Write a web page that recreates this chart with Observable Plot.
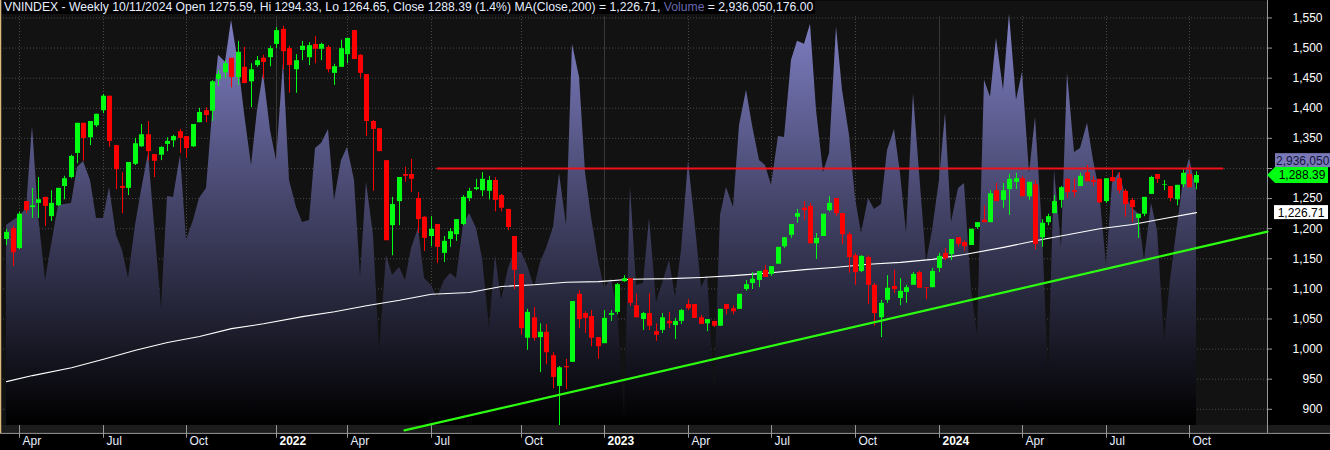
<!DOCTYPE html>
<html>
<head>
<meta charset="utf-8">
<script src="https://cdn.jsdelivr.net/npm/d3@7"></script>
<script src="https://cdn.jsdelivr.net/npm/@observablehq/plot@0.6"></script>
<style>
html,body{margin:0;padding:0;background:#000;overflow:hidden}
#wrap{position:relative;width:1330px;height:450px}
#wrap svg{display:block}
#hdr{position:absolute;left:2px;top:0;background:#000;color:#e6eeff;font:12.2px "Liberation Sans",Arial,sans-serif;line-height:14px;height:14px;padding:0 2px;white-space:nowrap}
#hdr span{color:#6a6ab0}
</style>
</head>
<body>
<div id="wrap"><div id="hdr">VNINDEX - Weekly 10/11/2024 Open 1275.59, Hi 1294.33, Lo 1264.65, Close 1288.39 (1.4%) MA(Close,200) = 1,226.71, <span>Volume</span> = 2,936,050,176.00</div></div>
<script>
const opens = [1182,1200,1167,1245,1235,1242,1252,1220,1238,1270,
1285,1325,1375,1351,1371,1396,1420,1338,1270,1267,
1307,1336,1356,1323,1322,1340,1346,1361,1353,1336,
1376,1396,1395,1448,1459,1483,1451,1468,1444,1471,
1483,1484,1506,1531,1499,1464,1496,1484,1506,1498,
1501,1458,1468,1489,1529,1488,1456,1378,1366,1313,
1205,1245,1290,1290,1250,1219,1187,1207,1159,1182,
1190,1207,1250,1265,1263,1262,1280,1255,1232,1187,
1124,1018,1052,1019,1028,989,938,971,978,1091,
1059,1054,1019,1009,1056,1061,1112,1117,1072,1049,
1059,1029,1031,1046,1039,1046,1074,1074,1052,1042,
1046,1038,1074,1067,1066,1099,1109,1114,1131,1124,
1141,1170,1189,1219,1234,1237,1175,1187,1230,1250,
1225,1190,1155,1129,1152,1106,1052,1081,1104,1084,
1094,1106,1127,1102,1102,1134,1159,1157,1185,1177,
1172,1202,1214,1210,1263,1247,1265,1277,1283,1253,
1273,1185,1210,1225,1247,1282,1263,1270,1293,1280,
1282,1245,1285,1283,1262,1247,1217,1224,1257,1290,
1272,1270,1248,1273,1290,1275.59];
const highs = [1199,1204,1227,1245,1267,1285,1252,1263,1267,1287,
1322,1375,1375,1378,1390,1423,1420,1338,1293,1310,
1350,1373,1378,1323,1336,1351,1355,1365,1353,1373,
1400,1401,1446,1463,1479,1483,1511,1501,1474,1486,
1488,1503,1534,1536,1503,1489,1511,1509,1519,1508,
1504,1473,1513,1516,1529,1489,1456,1380,1366,1313,
1252,1285,1302,1315,1260,1220,1220,1207,1187,1200,
1215,1255,1267,1282,1293,1287,1285,1257,1232,1187,
1124,1066,1069,1042,1041,994,971,983,1079,1097,
1062,1064,1019,1064,1064,1109,1122,1117,1091,1061,
1092,1042,1059,1061,1051,1066,1082,1074,1056,1049,
1046,1066,1074,1072,1091,1114,1127,1129,1139,1137,
1169,1185,1207,1232,1245,1242,1192,1224,1253,1250,
1225,1194,1159,1155,1155,1109,1081,1122,1131,1117,
1106,1127,1129,1102,1134,1159,1167,1182,1185,1180,
1199,1210,1238,1263,1275,1275,1290,1292,1287,1277,
1280,1215,1224,1255,1270,1283,1283,1292,1305,1287,
1282,1283,1297,1293,1265,1250,1224,1252,1287,1290,
1280,1270,1272,1298,1305,1294.33];
const lows = [1172,1137,1165,1225,1217,1217,1204,1212,1237,1248,
1283,1308,1312,1338,1368,1391,1335,1265,1225,1255,
1305,1335,1312,1285,1313,1328,1335,1325,1317,1335,
1376,1376,1378,1436,1449,1434,1438,1441,1401,1468,
1448,1469,1499,1464,1425,1425,1479,1471,1474,1479,
1459,1438,1468,1474,1481,1449,1353,1262,1328,1180,
1155,1205,1277,1260,1192,1162,1170,1142,1144,1169,
1179,1205,1245,1263,1253,1248,1228,1228,1197,1099,
1023,998,1013,961,974,934,873,933,978,1034,
1026,1004,983,1009,1046,1057,1111,1071,1052,1031,
1031,1013,1026,1034,1016,1041,1064,1051,1041,1029,
1036,1038,1057,1057,1066,1096,1099,1102,1119,1121,
1141,1167,1184,1209,1214,1175,1149,1187,1228,1220,
1174,1126,1106,1127,1074,1038,1019,1076,1092,1072,
1076,1106,1101,1082,1102,1127,1147,1147,1169,1162,
1172,1199,1210,1210,1245,1234,1222,1265,1253,1247,
1165,1169,1205,1225,1234,1250,1252,1270,1278,1270,
1242,1242,1277,1258,1219,1210,1184,1220,1257,1275,
1263,1245,1238,1268,1268,1264.65];
const closes = [1194,1160,1224,1230,1238,1248,1237,1242,1267,1283,
1320,1375,1350,1378,1390,1420,1345,1298,1267,1310,
1341,1356,1328,1312,1335,1345,1353,1350,1333,1373,
1393,1388,1444,1456,1474,1451,1493,1441,1464,1479,
1476,1499,1529,1494,1471,1479,1503,1504,1498,1506,
1464,1469,1499,1516,1481,1458,1378,1365,1328,1180,
1240,1285,1287,1282,1215,1184,1199,1169,1179,1195,
1215,1252,1262,1268,1282,1280,1247,1234,1202,1131,
1034,1061,1018,1028,994,953,969,969,1079,1049,
1051,1018,1004,1051,1059,1107,1117,1076,1052,1059,
1038,1023,1052,1042,1046,1064,1067,1051,1041,1049,
1038,1066,1066,1062,1091,1107,1116,1129,1119,1137,
1169,1185,1207,1225,1230,1175,1184,1224,1242,1225,
1190,1152,1127,1154,1106,1059,1076,1101,1099,1096,
1102,1124,1101,1101,1129,1154,1150,1182,1174,1170,
1199,1210,1210,1258,1245,1263,1282,1283,1253,1277,
1174,1209,1220,1245,1268,1260,1260,1287,1278,1277,
1243,1283,1278,1263,1240,1235,1224,1252,1285,1282,
1273,1250,1272,1292,1268,1288.39];
// weekly volume, millions of shares
const volumes = [2200,2255,2299,2387,3289,2310,1595,1980,2420,2431,
2442,2838,2904,2695,2277,2277,2618,2090,1925,1617,
2200,2585,2992,2200,1287,2519,2508,2970,2035,2255,
2497,2607,3432,4070,3993,4455,3982,3432,2860,3465,
3872,3245,2915,3993,2695,2398,2233,2255,3047,3102,
3256,2475,2915,3058,2695,1628,2673,2090,803,1870,
1650,1738,1595,1947,2167,1617,1540,1408,1595,1672,
1617,2200,2332,2167,1837,1067,1870,1375,1727,1903,
1903,1760,1518,1793,1947,2178,2772,2200,4191,3828,
2783,2288,1815,1507,1617,1265,110,2618,1540,1562,
2277,1353,1562,1815,1408,1925,2904,2288,1518,1650,
385,2310,2618,2398,3300,3685,3300,2915,2860,2640,
3179,3168,4015,4224,4191,4411,3465,2783,2992,4378,
3685,3190,2497,2112,2497,2376,2431,3025,3256,2772,
2112,3641,2783,1793,2145,2695,3432,2233,2607,2662,
1485,990,3795,3608,4257,3685,4521,3575,3883,2772,
3388,2145,517,2805,1958,3872,3003,3047,3322,2915,
2585,1760,2662,2783,2530,2387,2332,1815,2442,2145,
935,1595,2200,2695,2936,2585];
const maWeeks = [0,4,10,15,20,25,30,35,40,46,51,56,61,66,72,77,82,87,92,97,103,108,113,118,124,129,134,139,144,149,155,160,165,170,175,180,185];
const maValues = [946,956,969,983,998,1011,1021,1034,1042,1054,1062,1072,1081,1091,1094,1104,1107,1111,1112,1116,1117,1119,1122,1126,1132,1136,1141,1144,1149,1157,1169,1180,1190,1200,1207,1217,1226.71];
const gridPrices = [1550,1500,1450,1400,1350,1300,1250,1200,1150,1100,1050,1000,950,900];
const labelPrices = [1550,1500,1450,1400,1350,1250,1200,1150,1100,1050,1000,950,900];
const timeWeeks = [2,15,28,42,53,66,80,93,106,119,132,145,158,171,184];
const timeLabels = ["Apr","Jul","Oct","2022","Apr","Jul","Oct","2023","Apr","Jul","Oct","2024","Apr","Jul","Oct"];
const resistanceWeeks = [67,189], resistancePrices = [1300,1300];
const supportWeeks = [61.85,196.07], supportPrices = [865,1195];
const lastVolumeLabel = "2,936,050", lastCloseLabel = "1,288.39", lastMaLabel = "1,226.71";
const lastVolumeLevel = 1313, lastClose = 1288.39, lastMa = 1226.71;

const xDomain = [-0.98, 196.07], yDomain = [873.1, 1579];
const volumePerPoint = 6.62; // millions of shares per price point on the shared panel
const bars = closes.map((c,i)=>({i,o:opens[i],h:highs[i],l:lows[i],c,v:volumes[i]}));
const up = bars.filter(d=>d.c>=d.o), down = bars.filter(d=>d.c<d.o);
const timeTicks = timeWeeks.map((w,k)=>({w,label:timeLabels[k],year:/^\d/.test(timeLabels[k])}));
const UP="#00ff12", DOWN="#ff0000", GRID="#4a4a4a";

const gradient = (index,{y}) => {
  const s = d3.create("svg:defs");
  const g = s.append("linearGradient").attr("id","volGrad").attr("gradientUnits","userSpaceOnUse")
    .attr("x1",0).attr("x2",0).attr("y1",y(yDomain[1])).attr("y2",y(yDomain[0]));
  g.append("stop").attr("offset",0).attr("stop-color","#8484cc");
  g.append("stop").attr("offset",1).attr("stop-color","#000000");
  return s.node();
};
const tags = (index,{y}) => {
  const g = d3.create("svg:g").attr("font-family","Liberation Sans, Arial, sans-serif").attr("font-size",12).attr("text-anchor","start");
  const yv=y(lastVolumeLevel), yc=y(lastClose), ym=y(lastMa);
  g.append("rect").attr("x",1275).attr("y",yv-7).attr("width",55).attr("height",14).attr("fill","#7a7ab8");
  g.append("text").attr("x",1276).attr("y",yv+4.5).attr("text-anchor","start").attr("fill","#14143c").text(lastVolumeLabel);
  g.append("path").attr("d",`M1267,${yc}L1275,${yc-8}H1328V${yc+8}H1275Z`).attr("fill","#00ff12");
  g.append("text").attr("x",1302).attr("y",yc+4.5).attr("text-anchor","middle").attr("fill","#000").text(lastCloseLabel);
  g.append("rect").attr("x",1274).attr("y",ym-7).attr("width",54).attr("height",14).attr("fill","#fff");
  g.append("text").attr("x",1301).attr("y",ym+4.5).attr("text-anchor","middle").attr("fill","#000").text(lastMaLabel);
  return g.node();
};

const chart = Plot.plot({
  width:1330,height:450,marginLeft:0,marginRight:63,marginTop:0,marginBottom:25,
  style:{background:"#000",fontFamily:"Liberation Sans, Arial, sans-serif",overflow:"hidden"},
  x:{domain:xDomain,axis:null,round:true},
  y:{domain:yDomain,axis:null},
  marks:[
    gradient,
    Plot.frame({fill:"#121212",stroke:null}),
    Plot.ruleY(gridPrices,{stroke:GRID,strokeDasharray:"1 2"}),
    Plot.ruleX(timeTicks.filter(d=>!d.year),{x:"w",y1:yDomain[0],y2:1552,stroke:GRID,strokeDasharray:"1 2"}),
    Plot.ruleX(timeTicks.filter(d=>d.year),{x:"w",y1:yDomain[0],y2:1552,stroke:"#383838"}),
    Plot.areaY(bars,{x:"i",y1:yDomain[0],y2:d=>yDomain[0]+d.v/volumePerPoint,fill:"url(#volGrad)"}),
    // lower strip, axis line and time ticks
    Plot.rect([0],{x1:xDomain[0],x2:210,y1:yDomain[0],y2:860,fill:"#1c1c1c"}),
    Plot.ruleY([860],{x1:xDomain[0],x2:208,stroke:"#999"}),
    Plot.ruleX(timeTicks,{x:"w",y1:873,y2:852,stroke:"#999"}),
    Plot.ruleX([xDomain[0]],{y1:860,y2:yDomain[1],stroke:"#d9b97c",strokeWidth:1.5}),
    Plot.ruleX([xDomain[1]],{y1:860,y2:yDomain[1],stroke:"#999"}),
    Plot.ruleY(gridPrices,{x1:xDomain[1],x2:xDomain[1]+0.8,stroke:"#999"}),
    // moving average
    Plot.line(maWeeks.map((w,k)=>({w,p:maValues[k]})),{x:"w",y:"p",stroke:"#fff",strokeWidth:1.1}),
    // candles
    Plot.ruleX(up,{x:"i",y1:"l",y2:"h",stroke:UP,strokeWidth:1}),
    Plot.ruleX(down,{x:"i",y1:"l",y2:"h",stroke:DOWN,strokeWidth:1}),
    Plot.ruleX(up,{x:"i",y1:"o",y2:"c",stroke:UP,strokeWidth:5}),
    Plot.ruleX(down,{x:"i",y1:"o",y2:"c",stroke:DOWN,strokeWidth:5}),
    // trend lines
    Plot.line(resistanceWeeks.map((w,k)=>({w,p:resistancePrices[k]})),{x:"w",y:"p",stroke:"#f0101a",strokeWidth:2.2}),
    Plot.line(supportWeeks.map((w,k)=>({w,p:supportPrices[k]})),{x:"w",y:"p",stroke:"#2cff10",strokeWidth:2.2}),
    // labels
    Plot.text(labelPrices,{y:d=>d,text:d=>d3.format(",")(d),frameAnchor:"right",dx:55,textAnchor:"end",fill:"#fff",fontSize:12}),
    Plot.text(timeTicks.filter(d=>!d.year),{x:"w",text:"label",frameAnchor:"bottom",dy:19,dx:3,textAnchor:"start",fill:"#e6eeff",fontSize:12}),
    Plot.text(timeTicks.filter(d=>d.year),{x:"w",text:"label",frameAnchor:"bottom",dy:19,dx:3,textAnchor:"start",fill:"#fff",fontSize:12,fontWeight:"bold"}),
    tags
  ]
});
document.getElementById("wrap").prepend(chart);
</script>
</body>
</html>
